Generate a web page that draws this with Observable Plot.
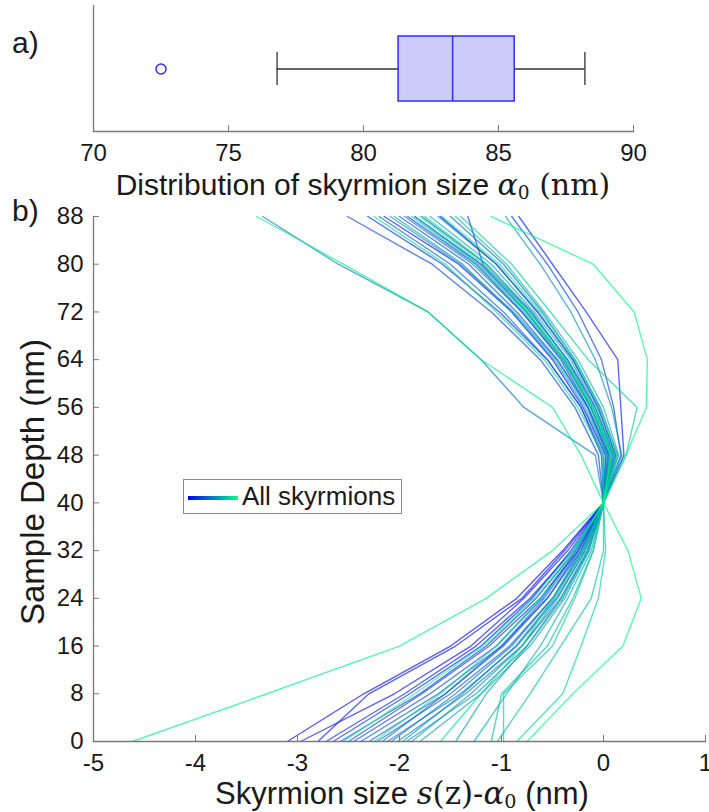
<!DOCTYPE html>
<html><head><meta charset="utf-8">
<script src="https://cdn.jsdelivr.net/npm/d3@7"></script>
<script src="https://cdn.jsdelivr.net/npm/@observablehq/plot@0.6"></script>
<style>
body{margin:0;background:#fff;}
#wrap{position:relative;width:709px;height:812px;overflow:hidden;font-family:"Liberation Sans",Arial,sans-serif;color:#1a1a1a;}
.abs{position:absolute;white-space:nowrap;}
.ser{font-family:"DejaVu Serif","Liberation Serif",serif;}
.it{font-style:italic;}
sub{font-size:0.62em;vertical-align:-0.25em;}
</style></head><body><div id="wrap"></div>
<script>
// ---- panel a) box plot statistics (nm)
const boxGroup = ["α0"];
const boxQ1 = 81.3, boxMedian = 83.3, boxQ3 = 85.6;
const whiskerLow = 76.8, whiskerHigh = 88.2;
const outliers = [72.5];
const topTicks = [70, 75, 80, 85, 90];

// ---- panel b) depth profiles s(z) - α0 (nm), one list per skyrmion
const depths = [0, 8, 16, 24, 32, 40, 48, 56, 64, 72, 80, 88];
const profiles = [
  [-3.10, -2.35, -1.50, -0.85, -0.40, 0, 0.12, -0.05, -0.30, -0.65, -1.05, -1.60],
  [-2.97, -2.05, -1.30, -0.78, -0.35, 0, 0.02, -0.20, -0.50, -0.90, -1.42, -2.15],
  [-2.80, -2.30, -1.45, -0.80, -0.38, 0, 0.08, -0.12, -0.38, -0.75, -1.20, -1.85],
  [-2.72, -1.95, -1.25, -0.72, -0.30, 0, 0.20, 0.17, 0.14, -0.17, -0.50, -0.83],
  [-2.65, -1.90, -1.20, -0.70, -0.32, 0, -0.02, -0.22, -0.55, -1.02, -1.58, -2.31],
  [-2.58, -1.80, -1.15, -0.66, -0.28, 0, 0.10, -0.08, -0.35, -0.72, -1.18, -1.33],
  [-2.50, -1.78, -1.12, -0.62, -0.25, 0, 0.05, -0.15, -0.42, -0.80, -1.25, -1.92],
  [-2.45, -1.70, -1.05, -0.60, -0.27, 0, -0.05, -0.28, -0.62, -1.10, -1.68, -2.51],
  [-2.38, -1.62, -1.00, -0.55, -0.22, 0, 0.17, 0.10, -0.02, -0.25, -0.55, -0.90],
  [-2.30, -1.55, -0.98, -0.55, -0.24, 0, 0.04, -0.15, -0.45, -0.85, -1.32, -2.00],
  [-2.22, -1.50, -0.92, -0.50, -0.20, 0, 0.09, -0.10, -0.36, -0.70, -1.15, -1.78],
  [-2.17, -1.55, -1.00, -0.58, -0.25, 0, 0.00, -0.22, -0.55, -0.98, -1.50, -2.20],
  [-2.12, -1.40, -0.85, -0.46, -0.18, 0, 0.14, -0.03, -0.28, -0.60, -0.98, -1.50],
  [-2.08, -1.45, -0.90, -0.50, -0.22, 0, 0.06, -0.12, -0.40, -0.80, -1.28, -1.95],
  [-2.02, -1.35, -0.80, -0.42, -0.16, 0, -0.08, -0.78, -1.20, -1.72, -2.60, -3.34],
  [-1.97, -1.38, -0.86, -0.48, -0.20, 0, 0.12, -0.06, -0.30, -0.64, -1.05, -1.62],
  [-1.93, -1.25, -0.75, -0.40, -0.15, 0, 0.03, -0.16, -0.46, -0.88, -1.40, -2.09],
  [-1.88, -1.30, -0.80, -0.45, -0.18, 0, 0.18, 0.08, -0.08, -0.32, -0.62, -0.96],
  [-1.80, -1.20, -0.72, -0.38, -0.14, 0, 0.02, -0.18, -0.48, -0.90, -1.38, -2.05],
  [-1.45, -1.15, -0.75, -0.42, -0.15, 0, 0.11, -0.08, -0.32, -0.68, -1.10, -1.70],
  [-1.27, -0.95, -0.62, -0.35, -0.12, 0, 0.06, -0.13, -0.40, -0.76, -1.22, -1.85],
  [-1.10, -1.00, -0.55, -0.30, -0.10, 0, 0.15, 0.00, -0.25, -0.58, -0.95, -1.45],
  [-1.04, -0.72, -0.42, -0.12, 0.00, 0, 0.07, -0.12, -0.40, -0.78, -1.24, -1.88],
  [-0.98, -0.98, -0.50, -0.28, -0.10, 0, 0.22, 0.33, -0.15, -0.52, -0.90, -1.40],
  [-0.85, -0.40, -0.22, -0.05, 0.02, 0, 0.10, -0.10, -0.36, -0.72, -1.14, -1.75],
  [-1.60, -1.20, -0.80, -0.50, -0.20, 0, -0.01, -0.25, -0.58, -1.05, -1.55, -2.25],
  [-2.25, -1.60, -1.05, -0.62, -0.28, 0, 0.13, -0.04, -0.28, -0.62, -1.02, -1.58],
  [-4.62, -3.30, -2.00, -1.15, -0.50, 0, -0.22, -0.50, -1.20, -1.72, -2.55, -3.40],
  [-0.75, -0.30, 0.19, 0.37, 0.24, 0, 0.22, 0.42, 0.43, 0.30, -0.10, -1.10],
  [-2.55, -1.85, -1.18, -0.68, -0.30, 0, 0.08, -0.11, -0.38, -0.74, -1.18, -1.80]
];
const xTicks = [-5, -4, -3, -2, -1, 0, 1];
const yTicks = [0, 8, 16, 24, 32, 40, 48, 56, 64, 72, 80, 88];

const AX = "#7a7a7a", TXT = "#1a1a1a", FONT = "Liberation Sans, Arial, sans-serif";
const fmt = d => String(d);
const wrap = document.getElementById("wrap");

// ---------- panel a
const stats = [{group: boxGroup[0], q1: boxQ1, median: boxMedian, q3: boxQ3}];
const topPlot = Plot.plot({
  width: 709, height: 200,
  marginLeft: 93, marginRight: 76, marginTop: 5, marginBottom: 69,
  style: {fontFamily: FONT, fontSize: "24px", color: TXT, background: "transparent", overflow: "visible"},
  x: {domain: [70, 90]},
  y: {type: "band", domain: boxGroup, padding: 0.32, axis: null},
  marks: [
    Plot.ruleY(stats, {y: "group", x1: whiskerLow, x2: "q1", stroke: "#333", strokeWidth: 1.3}),
    Plot.ruleY(stats, {y: "group", x1: "q3", x2: whiskerHigh, stroke: "#333", strokeWidth: 1.3}),
    Plot.tickX([whiskerLow, whiskerHigh], {x: d => d, y: () => boxGroup[0], insetTop: 16, insetBottom: 16, stroke: "#333", strokeWidth: 1.3}),
    Plot.barX(stats, {y: "group", x1: "q1", x2: "q3", fill: "#cdcdfb", stroke: "#2e2ef0", strokeWidth: 1.5}),
    Plot.tickX(stats, {y: "group", x: "median", stroke: "#2e2ef0", strokeWidth: 1.5}),
    Plot.dot(outliers, {x: d => d, y: () => boxGroup[0], r: 5, stroke: "#2e2ef0", strokeWidth: 1.5}),
    Plot.frame({anchor: "left", stroke: AX, strokeWidth: 1.3}),
    Plot.frame({anchor: "bottom", stroke: AX, strokeWidth: 1.3}),
    Plot.axisX(topTicks, {tickSize: -6, tickPadding: 18, stroke: AX, fill: TXT, fontSize: 24, tickFormat: fmt, label: null})
  ]
});
topPlot.style.position = "absolute"; topPlot.style.left = "0px"; topPlot.style.top = "0px";
wrap.appendChild(topPlot);

// ---------- panel b
const lineData = profiles.flatMap((p, i) => p.map((v, j) => ({id: i, x: v, depth: depths[j]})));
const botPlot = Plot.plot({
  width: 709, height: 612,
  marginLeft: 93, marginRight: 4, marginTop: 16, marginBottom: 71,
  style: {fontFamily: FONT, fontSize: "24px", color: TXT, background: "transparent", overflow: "visible"},
  x: {domain: [-5, 1]},
  y: {domain: [0, 88]},
  color: {type: "linear", domain: [0, profiles.length - 1], range: ["#0000ff", "#00ff80"]},
  marks: [
    Plot.line(lineData, {x: "x", y: "depth", z: "id", stroke: "id", strokeOpacity: 0.65, strokeWidth: 1.4}),
    Plot.frame({anchor: "left", stroke: AX, strokeWidth: 1.3}),
    Plot.frame({anchor: "bottom", stroke: AX, strokeWidth: 1.3}),
    Plot.axisX(xTicks, {tickSize: -6, tickPadding: 18, stroke: AX, fill: TXT, fontSize: 24, tickFormat: fmt, label: null}),
    Plot.axisY(yTicks, {tickSize: -6, tickPadding: 16, stroke: AX, fill: TXT, fontSize: 24, tickFormat: fmt, label: null})
  ]
});
botPlot.style.position = "absolute"; botPlot.style.left = "0px"; botPlot.style.top = "200px";
wrap.appendChild(botPlot);

// ---------- text labels & legend
function addText(html, css) {
  const d = document.createElement("div");
  d.className = "abs"; d.innerHTML = html;
  Object.assign(d.style, css);
  wrap.appendChild(d);
  return d;
}
addText("a)", {left: "12px", top: "26px", fontSize: "30px"});
addText("b)", {left: "12px", top: "194px", fontSize: "30px"});
addText('Distribution of skyrmion size <span class="ser it">α</span><span class="ser"><sub>0</sub> (nm)</span>',
  {left: "363px", top: "185px", fontSize: "30px", transform: "translate(-50%,-50%)"});
addText('Skyrmion size <span class="ser it">s</span><span class="ser">(z)</span>-<span class="ser it">α</span><span class="ser"><sub>0</sub></span> (nm)',
  {left: "402px", top: "794px", fontSize: "31px", transform: "translate(-50%,-50%)"});
addText("Sample Depth (nm)", {left: "33px", top: "482px", fontSize: "33px", transform: "translate(-50%,-50%) rotate(-90deg)"});
addText('<span style="display:inline-block;width:50px;height:4px;margin:0 4px 0 4px;vertical-align:middle;background:linear-gradient(90deg,#0000ff,#00ff80)"></span>All skyrmions',
  {left: "183px", top: "479px", width: "217px", height: "33px", lineHeight: "33px", fontSize: "26px", border: "1.5px solid #8a8a8a", background: "#fff", boxSizing: "content-box"});
</script></body></html>
